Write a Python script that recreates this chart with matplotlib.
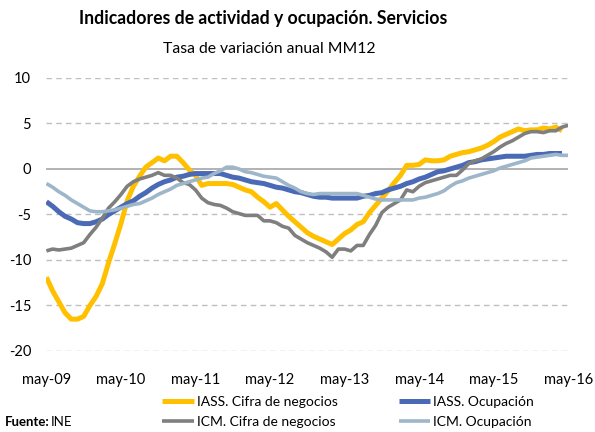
import matplotlib.pyplot as plt
import numpy as np

plt.rcParams['font.family'] = ['Lato', 'DejaVu Sans']
plt.rcParams['axes.unicode_minus'] = False

# month labels every 12 months, may-09 .. may-16
tick_labels = ["may-09", "may-10", "may-11", "may-12", "may-13", "may-14", "may-15", "may-16"]

# IASS. Cifra de negocios (may-09 .. apr-16)
iass_cifra = [-11.9, -13.4, -14.6, -15.8, -16.5, -16.5, -16.2, -15.0, -14.0, -12.6,
              -10.3, -8.2, -6.0, -3.5, -1.9, -0.8, 0.2, 0.7, 1.2, 0.9,
              1.4, 1.4, 0.7, -0.1, -0.7, -1.8, -1.6, -1.6, -1.6, -1.6,
              -1.7, -2.0, -2.3, -2.5, -3.1, -3.6, -4.2, -3.8, -4.5, -5.2,
              -5.8, -6.4, -7.0, -7.4, -7.7, -8.0, -8.3, -7.7, -7.1, -6.7,
              -6.1, -5.8, -4.8, -4.0, -3.2, -2.4, -1.5, -0.7, 0.4, 0.4,
              0.5, 1.0, 0.9, 0.9, 1.0, 1.4, 1.6, 1.8, 1.9, 2.1,
              2.3, 2.6, 3.0, 3.5, 3.8, 4.1, 4.4, 4.2, 4.3, 4.3,
              4.5, 4.4, 4.6, 4.2]

# IASS. Ocupación (may-09 .. apr-16)
iass_ocup = [-3.6, -4.1, -4.7, -5.2, -5.5, -5.9, -6.0, -6.0, -5.8, -5.5,
             -5.0, -4.6, -4.2, -3.8, -3.5, -3.0, -2.6, -2.1, -1.7, -1.4,
             -1.2, -0.9, -0.8, -0.6, -0.5, -0.5, -0.5, -0.5, -0.5, -0.7,
             -0.9, -1.0, -1.2, -1.4, -1.5, -1.6, -1.8, -2.0, -2.1, -2.3,
             -2.5, -2.6, -2.8, -3.0, -3.1, -3.1, -3.2, -3.2, -3.2, -3.2,
             -3.2, -3.0, -2.9, -2.7, -2.6, -2.3, -2.1, -1.9, -1.6, -1.4,
             -1.1, -0.9, -0.6, -0.3, -0.2, 0.0, 0.2, 0.4, 0.7, 0.8,
             1.0, 1.1, 1.2, 1.3, 1.4, 1.4, 1.4, 1.4, 1.5, 1.6,
             1.6, 1.7, 1.7, 1.7]

# ICM. Cifra de negocios (may-09 .. may-16)
icm_cifra = [-9.0, -8.8, -8.9, -8.8, -8.7, -8.4, -8.1, -7.2, -6.4, -5.4,
             -4.3, -3.6, -2.8, -1.9, -1.4, -1.1, -0.9, -0.7, -0.4, -0.7,
             -0.7, -1.0, -1.5, -1.7, -2.3, -3.2, -3.7, -3.9, -4.0, -4.3,
             -4.7, -4.9, -5.1, -5.1, -5.1, -5.7, -5.7, -5.9, -6.3, -6.5,
             -7.3, -7.7, -8.1, -8.4, -8.7, -9.1, -9.7, -8.8, -8.8, -9.0,
             -8.4, -8.4, -7.2, -6.2, -4.8, -4.2, -3.8, -3.4, -2.3, -2.5,
             -1.9, -1.5, -1.3, -1.1, -0.9, -0.7, -0.7, -0.1, 0.6, 0.9,
             1.1, 1.5, 1.9, 2.4, 2.8, 3.1, 3.5, 3.9, 4.1, 4.1,
             4.0, 4.2, 4.2, 4.6, 4.8]

# ICM. Ocupación (may-09 .. may-16)
icm_ocup = [-1.6, -2.0, -2.5, -2.9, -3.4, -3.8, -4.2, -4.6, -4.7, -4.7,
            -4.6, -4.5, -4.3, -4.1, -3.9, -3.8, -3.5, -3.2, -2.8, -2.5,
            -2.2, -1.8, -1.6, -1.4, -1.2, -1.0, -0.9, -0.5, -0.2, 0.2,
            0.2, 0.0, -0.3, -0.4, -0.6, -0.8, -0.9, -1.0, -1.4, -1.8,
            -2.1, -2.5, -2.7, -2.8, -2.7, -2.7, -2.7, -2.7, -2.7, -2.7,
            -2.7, -2.9, -3.1, -3.3, -3.4, -3.4, -3.4, -3.4, -3.4, -3.4,
            -3.2, -3.1, -2.9, -2.7, -2.4, -1.9, -1.5, -1.3, -1.0, -0.8,
            -0.6, -0.4, -0.2, 0.1, 0.3, 0.5, 0.7, 0.9, 1.2, 1.3,
            1.4, 1.5, 1.6, 1.5, 1.5]

fig = plt.figure(figsize=(5.95, 4.32), dpi=100)
ax = fig.add_axes([0.078, 0.1875, 0.877, 0.632])

ax.plot(np.arange(len(iass_cifra)), iass_cifra, color="#FFC000", lw=3.6,
        solid_capstyle="butt", label="IASS. Cifra de negocios", zorder=3)
ax.plot(np.arange(len(iass_ocup)), iass_ocup, color="#4A6AB6", lw=3.6,
        solid_capstyle="butt", label="IASS. Ocupación", zorder=3)
ax.plot(np.arange(len(icm_cifra)), icm_cifra, color="#7F7F7F", lw=2.6,
        solid_capstyle="butt", label="ICM. Cifra de negocios", zorder=3)
ax.plot(np.arange(len(icm_ocup)), icm_ocup, color="#9DB6C9", lw=2.6,
        solid_capstyle="butt", label="ICM. Ocupación", zorder=3)

ax.set_xlim(0, 84)
ax.set_ylim(-20, 10)
ax.set_yticks([-20, -15, -10, -5, 0, 5, 10])
ax.set_xticks(np.arange(0, 85, 12), labels=tick_labels)

for v in [-20, -15, -10, -5, 5, 10]:
    ax.axhline(v, color="#BFBFBF", lw=1, ls=(0, (4, 3)), zorder=1)
ax.axhline(0, color="#A6A6A6", lw=1.2, zorder=2)

for s in ax.spines.values():
    s.set_visible(False)
ax.tick_params(length=0, labelsize=10.5, colors="#000000")
ax.tick_params(axis="y", pad=11)
ax.tick_params(axis="x", pad=16)

fig.text(0.443, 0.958, "Indicadores de actividad y ocupación. Servicios",
         ha="center", va="center", fontsize=12.7, fontweight="bold")
fig.text(0.452, 0.886, "Tasa de variación anual MM12",
         ha="center", va="center", fontsize=11.3)

h, l = ax.get_legend_handles_labels()
order = [0, 2, 1, 3]
fig.legend([h[i] for i in order], [l[i] for i in order], ncol=2,
           loc="upper left", bbox_to_anchor=(0.272, 0.083), frameon=False,
           fontsize=10, handlelength=2.3, handletextpad=0.2,
           columnspacing=4.4, labelspacing=0.55, borderaxespad=0, borderpad=0)

fig.text(0.008, 0.022, "Fuente:", ha="left", va="center", fontsize=9.5, fontweight="bold")
fig.text(0.085, 0.022, "INE", ha="left", va="center", fontsize=9.5)

fig.savefig("out.png", dpi=100)
